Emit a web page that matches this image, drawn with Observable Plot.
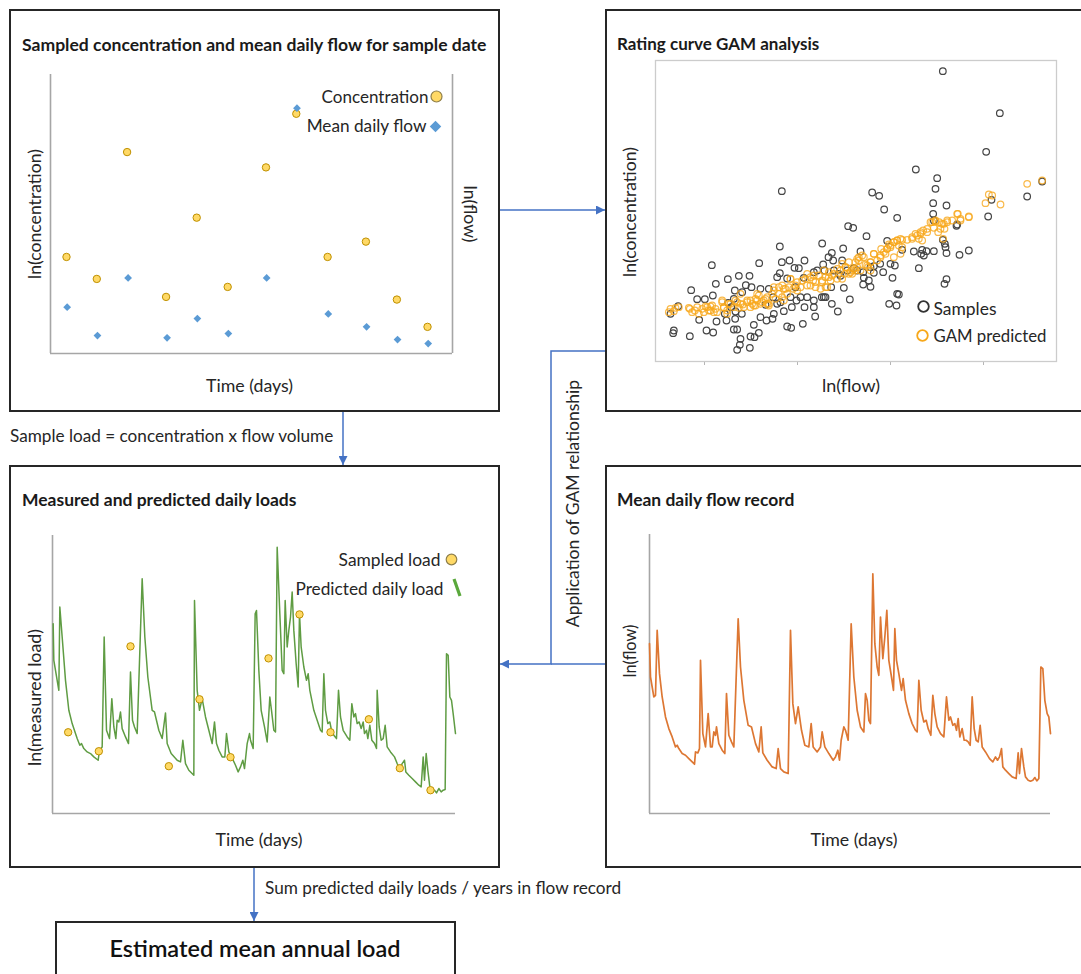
<!DOCTYPE html>
<html><head><meta charset="utf-8">
<script src="https://cdn.jsdelivr.net/npm/d3@7"></script>
<script src="https://cdn.jsdelivr.net/npm/@observablehq/plot@0.6"></script>
<style>
body{margin:0;background:#fff;}
#fig{position:relative;width:1081px;height:974px;overflow:hidden;font-family:Lato,"Open Sans","DejaVu Sans",sans-serif;color:#1f1f1f;background:#fff}
.box{position:absolute;border:2px solid #262626;box-sizing:border-box;background:#fff}
.lbl{position:absolute;white-space:nowrap;line-height:1.2;display:inline-block}
</style></head>
<body><div id="fig"></div>
<script>
// ---------- Panel 1: sampled concentration and mean daily flow ----------
const sampleDay = [48,139,230,347,439,532,647,738,832,947,1040,1132];
const lnConcentration = [29.0,22.4,60.5,17.0,40.8,20.0,55.9,72.0,29.0,33.6,16.2,8.0];
const flowSampleDay = [50,141,233,350,441,534,649,740,834,949,1042,1134];
const lnMeanDailyFlow = [13.9,5.4,22.7,4.7,10.5,6.0,22.7,73.7,11.9,8.0,4.2,3.0];

// ---------- Panel 2: rating curve GAM ----------
const sampleLnFlow = [9.07,10.78,10.37,8.26,8.90,8.85,8.78,9.18,8.78,8.80,
12.05,11.60,10.53,10.43,9.50,4.24,6.95,7.16,7.31,7.70,
6.23,6.38,6.78,7.40,5.45,4.18,7.85,8.20,8.45,8.58,
8.80,9.15,9.18,9.57,9.85,8.35,9.18,9.12,7.70,7.75,
7.46,7.68,6.60,5.74,6.08,5.64,5.48,4.62,4.75,4.92,
4.47,4.24,3.56,2.14,1.52,1.70,1.93,2.17,2.26,2.62,
2.95,3.27,3.16,3.33,3.60,3.85,4.10,4.18,4.40,4.65,
4.90,5.20,5.30,5.52,5.80,6.00,6.40,6.68,6.90,7.00,
7.28,7.56,7.50,7.63,7.19,6.85,6.90,6.68,6.10,6.28,
5.74,5.92,5.50,5.20,4.92,4.68,4.54,4.30,4.10,4.00,
3.96,3.78,3.60,3.40,3.55,3.30,3.42,3.00,2.98,2.90,
3.28,2.80,2.90,1.98,2.18,1.48,1.00,0.98,0.90,1.13,
1.76,2.28,2.53,2.63,2.58,2.85,2.84,3.04,4.40,4.52,
4.87,5.24,2.72,2.83,3.05,2.80,3.75,3.98,4.20,4.50,
4.80,5.00,5.20,5.44,5.55,5.72,5.95,5.78,6.05,6.20,
6.50,6.70,7.00,8.42,8.50,9.07,9.13,9.48];
const sampleLnConc = [9.08,7.82,6.66,6.13,5.87,5.55,5.12,5.05,4.80,4.60,
5.77,5.32,5.22,4.72,4.48,5.48,5.44,5.34,4.93,4.68,
4.43,4.38,4.13,3.99,3.91,3.82,3.72,3.67,3.72,3.68,
3.68,3.80,3.62,3.57,3.70,3.17,2.84,2.70,2.40,2.38,
2.10,2.05,3.67,3.63,3.76,3.50,3.28,3.18,3.17,3.40,
3.40,3.35,3.32,3.26,2.51,2.24,2.24,2.35,2.70,2.84,
2.94,2.94,2.66,2.60,2.55,2.55,2.90,3.02,2.86,2.60,
2.88,3.05,3.10,3.10,3.10,2.94,3.17,3.05,3.20,3.03,
3.05,2.88,3.30,3.25,3.30,2.80,2.61,2.68,2.58,2.23,
2.10,1.87,2.30,2.00,2.00,2.20,2.00,1.88,2.10,1.80,
1.65,1.60,1.70,1.47,1.23,1.12,1.10,1.05,0.87,0.72,
0.78,1.33,1.33,1.30,1.24,1.13,1.30,1.22,1.80,2.03,
1.62,1.57,1.80,2.13,1.60,1.87,1.65,1.80,1.42,1.38,
1.50,1.72,2.00,2.50,2.45,2.25,2.07,2.30,2.15,2.30,
2.30,2.30,2.20,2.30,2.30,2.60,3.00,3.40,3.40,3.10,
3.10,2.88,3.23,3.60,3.55,4.02,3.90,4.44];
const gamLnFlow = [0.85,1.00,1.15,1.48,1.55,1.70,1.90,2.00,2.10,2.15,
2.25,2.45,2.50,2.65,2.80,2.90,3.00,3.20,3.30,3.35,
3.45,3.60,3.70,3.80,3.85,3.95,4.05,4.15,4.25,4.30,
4.40,4.50,4.58,4.70,4.80,4.95,5.10,5.18,5.25,5.35,
5.45,5.55,5.65,5.70,5.80,5.90,6.00,6.05,6.15,6.25,
6.35,6.45,6.55,6.60,6.70,6.75,6.83,6.90,7.00,7.10,
7.20,7.35,7.40,7.45,7.50,7.60,7.70,7.75,7.85,8.00,
8.15,8.25,8.35,8.40,8.48,8.60,8.70,8.85,8.93,9.05,
9.12,9.20,9.35,9.52,9.60,9.85,9.08,10.35,10.45,10.55,
10.80,11.60,12.05,7.60,7.80,6.55,3.00,3.50,4.00,5.00,
5.50,4.30,2.60,2.30,1.75,5.40,6.12,7.22,8.80,8.96,
6.50,6.90,5.20,4.70,3.80,3.45,3.10,
0.90,1.05,1.45,1.63,1.85,1.95,2.05,2.10,2.20,2.45,
2.50,2.60,2.70,2.85,2.95,3.07,3.20,3.30,3.40,3.50,
3.55,3.65,3.75,3.85,4.00,4.15,4.25,4.35,4.45,4.50,
4.65,4.85,5.00,5.10,5.25,5.45,5.55,5.60,5.65,5.75,
5.90,6.05,6.15,6.25,6.35,6.45,6.30,6.40,6.50,6.65,
6.80,6.90,7.00,7.20,7.30,7.40,7.50,7.60,7.70,7.80,
7.85,8.15,8.30,8.40,8.45,8.60,8.75,8.85,9.00,9.10,
9.20,9.50,9.60,9.85];
const gamLnConc = [1.85,1.88,2.00,1.95,1.85,2.00,1.85,2.00,1.90,2.05,
1.95,2.15,2.00,2.10,2.00,2.15,2.10,2.20,2.00,2.10,
2.25,2.10,2.20,2.30,2.05,2.40,2.25,2.40,2.30,2.55,
2.40,2.85,2.55,2.50,2.60,2.85,2.65,2.80,2.60,2.95,
2.75,2.60,2.90,2.80,3.00,2.85,3.10,2.85,3.20,3.00,
3.10,3.35,3.40,3.10,3.50,3.28,3.20,3.35,3.60,3.40,
3.55,3.60,3.75,3.88,3.80,3.95,4.00,3.85,4.02,4.02,
4.05,4.20,4.05,4.20,4.30,4.25,4.55,4.60,4.25,4.50,
4.35,4.55,4.60,4.80,4.60,4.72,4.05,5.12,5.38,5.35,
5.08,5.70,5.80,3.50,3.60,3.50,2.40,2.40,2.60,3.00,
3.10,2.20,1.90,1.85,1.80,2.55,3.00,3.75,4.38,4.55,
3.20,3.10,2.95,2.75,2.10,2.05,2.00,
1.95,1.98,1.98,1.90,1.95,2.02,1.90,2.02,1.85,2.20,
1.98,1.80,2.10,2.20,1.98,2.08,2.15,2.20,2.05,2.20,
2.35,2.15,2.25,2.10,2.50,2.60,2.65,2.55,2.60,2.85,
2.65,2.80,2.65,2.90,2.75,2.80,2.90,2.60,3.05,2.95,
3.15,3.30,3.20,3.35,3.00,3.10,3.05,3.15,3.45,3.55,
3.25,3.35,3.60,3.50,3.65,3.75,3.85,3.95,4.00,4.05,
3.80,4.10,4.15,4.25,4.00,4.35,4.55,4.57,4.35,4.50,
4.60,4.80,4.65,4.70];
const lnFlowTicks = [1.92,4.71,7.50,10.29];

// ---------- Panel 3: measured and predicted daily loads ----------
const loadDay = [8,10,25,28,35,45,55,65,80,88,
93,100,110,120,130,143,147,155,161,168,
177,184,190,196,200,205,210,215,225,234,
240,246,252,260,275,283,292,305,312,325,
335,345,350,362,380,390,397,405,415,430,
432,440,447,455,465,475,485,492,498,505,
515,523,528,535,548,555,563,570,577,582,
590,597,600,608,614,618,625,632,642,650,
658,663,670,675,680,688,695,700,704,710,
715,720,725,730,737,743,747,752,760,768,
773,778,790,800,810,815,820,825,832,838,
843,850,858,864,870,878,890,898,904,910,
915,920,926,932,938,942,948,952,958,964,
972,978,980,986,992,998,1004,1010,1020,1032,
1040,1048,1055,1062,1066,1075,1085,1095,1105,1112,
1118,1122,1127,1132,1138,1145,1152,1158,1165,1172,
1178,1184,1188,1193,1198,1203,1208,1215];
const lnPredictedLoad = [57.0,46.0,37.0,62.0,53.0,40.0,31.0,27.0,22.5,20.5,
21.0,19.5,18.5,18.0,17.0,16.0,19.0,20.0,53.0,25.0,
22.5,34.5,26.0,22.5,28.0,27.5,30.5,25.5,23.0,21.0,
42.5,28.0,26.0,24.0,70.5,53.0,41.0,31.0,30.5,25.0,
22.5,30.2,21.0,18.0,16.0,15.5,22.0,15.0,13.0,11.5,
64.0,37.0,31.0,34.5,29.0,25.0,21.0,27.5,21.0,19.0,
17.0,17.0,24.0,18.5,16.0,14.5,12.5,14.0,16.0,13.5,
21.0,24.0,22.0,19.5,60.0,61.0,43.0,31.0,26.0,21.5,
35.0,31.0,25.0,24.5,80.0,60.0,43.0,42.0,64.0,50.0,
55.0,59.0,66.5,55.0,45.0,38.0,60.0,50.0,44.0,40.0,
42.0,37.0,31.0,28.0,25.0,24.5,42.0,31.0,27.0,27.5,
25.0,23.5,22.5,37.0,29.0,25.0,23.0,22.0,33.0,29.0,
30.0,27.0,27.5,25.5,27.5,24.0,25.0,22.5,26.5,22.0,
21.0,19.5,37.0,26.0,22.0,22.5,26.5,20.0,18.5,17.0,
15.0,13.5,15.0,16.0,12.5,11.5,10.5,9.5,8.5,8.0,
17.0,10.0,18.0,13.0,8.0,6.5,7.0,6.2,7.5,6.5,
7.0,7.2,48.0,47.5,35.0,34.0,30.0,24.0];
const sampledLoadDay = [53,145,240,355,447,540,654,747,840,955,1048,1140];
const lnSampledLoad = [24.4,18.7,50.2,14.2,34.3,16.9,46.6,59.8,24.4,28.3,13.6,7.0];

// ---------- Panel 4: mean daily flow record ----------
const flowRecordDay = [12,15,25,30,35,42,50,60,70,80,
90,95,100,110,120,130,140,147,150,157,
162,165,172,180,188,195,200,205,210,213,
220,230,238,243,250,258,265,278,285,295,
308,318,330,340,347,352,365,380,392,398,
405,415,428,435,442,450,458,468,478,490,
497,503,515,525,530,538,550,563,570,577,
582,587,595,600,608,617,625,635,645,655,
660,665,670,675,682,688,695,700,705,712,
718,724,730,738,744,748,753,760,768,773,
780,790,800,810,815,820,827,835,842,848,
856,862,868,875,885,895,903,910,915,922,
928,933,938,943,950,956,962,968,974,980,
986,992,998,1004,1010,1020,1032,1042,1050,1056,
1062,1068,1072,1080,1090,1100,1112,1118,1122,1128,
1135,1140,1148,1155,1162,1168,1174,1180,1186,1192,
1198,1205,1210,1215];
const lnFlowRecord = [51.0,41.0,35.0,35.5,55.0,42.0,35.0,29.0,25.5,23.0,
20.0,20.5,19.5,18.0,17.5,16.5,15.5,14.8,18.5,18.2,
19.5,46.0,24.0,20.0,30.0,20.0,20.0,24.5,23.5,26.0,
21.0,19.0,18.0,36.0,23.5,21.5,20.0,58.5,44.0,34.0,
26.5,26.0,21.0,18.5,26.0,18.2,16.0,14.0,13.5,19.5,
13.5,12.5,12.0,55.0,33.0,27.0,32.0,25.0,20.5,20.0,
27.0,20.0,18.5,20.0,24.5,20.0,18.0,16.0,17.0,19.0,
16.0,22.0,26.0,25.0,22.0,57.0,41.0,31.0,26.0,24.5,
36.0,34.0,28.0,27.0,72.0,51.0,44.0,41.5,59.0,46.5,
53.0,61.0,46.0,41.0,37.0,55.5,46.0,42.0,37.0,40.5,
34.0,30.0,27.0,25.0,24.5,40.0,31.0,27.5,28.0,25.5,
23.5,35.5,30.0,26.0,24.0,23.0,35.0,28.0,29.0,26.5,
27.0,25.0,28.5,23.0,25.5,22.0,22.0,21.5,20.5,35.0,
25.5,22.0,21.5,26.5,20.0,18.5,16.5,15.5,17.0,16.0,
17.0,19.5,14.0,13.0,12.0,11.0,10.5,18.2,12.0,19.5,
14.0,11.0,10.0,9.7,10.0,10.8,9.8,10.5,44.0,43.5,
34.0,30.0,29.0,24.0];

// ---------- text ----------
const panelTitles = ["Sampled concentration and mean daily flow for sample date","Rating curve GAM analysis","Measured and predicted daily loads","Mean daily flow record"];
const stepNotes = ["Sample load = concentration x flow volume","Application of GAM relationship","Sum predicted daily loads / years in flow record"];
const resultLabel = "Estimated mean annual load";

// ================= rendering =================
const FONT = "Lato, 'Open Sans', 'DejaVu Sans', sans-serif";
const INK = "#262626", AXIS = "#a6a6a6", BLUE = "#4472C4";
const GOLD_FILL = "#FFD966", GOLD_STROKE = "#BF9000", DIAMOND = "#5B9BD5";
const GREEN = "#5f9c43", ORANGE = "#DD7733", SAMPLE_GRAY = "#454545", GAM_ORANGE = "#F7A81B";
const fig = document.getElementById("fig");
const zip = (xs, ys) => xs.map((x, i) => ({x, y: ys[i]}));

function box(l, t, w, h) { const d = document.createElement("div"); d.className = "box"; Object.assign(d.style, {left: l+"px", top: t+"px", width: w+"px", height: h+"px"}); fig.appendChild(d); }
box(9, 9, 491, 403); box(605, 9, 490, 403); box(9, 465, 491, 403); box(605, 465, 490, 403); box(55, 921, 401, 80);

// connectors
const conn = d3.create("svg").attr("width", 1081).attr("height", 974).style("position","absolute").style("left","0px").style("top","0px");
conn.append("defs").append("marker").attr("id","ah").attr("viewBox","0 0 10 10").attr("refX",10).attr("refY",5)
  .attr("markerWidth",9).attr("markerHeight",9).attr("markerUnits","userSpaceOnUse").attr("orient","auto")
  .append("path").attr("d","M0,0L10,5L0,10Z").attr("fill",BLUE);
[["M500,210H605",true],["M343,412V465",true],["M605,351H551V664H500",true],["M605,664H551",false],["M254,868V921",true]]
  .forEach(([d, head]) => { const p = conn.append("path").attr("d", d).attr("fill","none").attr("stroke",BLUE).attr("stroke-width",1.5); if (head) p.attr("marker-end","url(#ah)"); });
fig.appendChild(conn.node());

function fitTexts(svg, fits) {
  svg.querySelectorAll("text").forEach(t => {
    const want = fits[t.textContent];
    if (!want) return;
    const len = t.getComputedTextLength();
    const fs = parseFloat(getComputedStyle(t).fontSize);
    if (len > 0) t.style.fontSize = (fs * want / len).toFixed(2) + "px";
  });
}
function mount(svg, left, top, fits) {
  svg.style.position = "absolute"; svg.style.left = left + "px"; svg.style.top = top + "px";
  fig.appendChild(svg); fitTexts(svg, fits);
}
const baseStyle = {fontFamily: FONT, fontSize: "15px", background: "transparent", color: INK, overflow: "visible"};
const txt = (s, o) => Plot.text([s], {fill: INK, fontSize: 15, textAnchor: "middle", lineAnchor: "middle", ...o});

// Panel 1
mount(Plot.plot({
  width: 487, height: 340, marginLeft: 39, marginRight: 46, marginTop: 14, marginBottom: 47,
  x: {domain: [0, 1207], axis: null}, y: {domain: [0, 83.8], axis: null}, style: baseStyle,
  marks: [
    Plot.ruleX([0, 1207], {stroke: AXIS, strokeWidth: 1.6}),
    Plot.ruleY([0], {stroke: AXIS, strokeWidth: 1.6}),
    Plot.dot(zip(sampleDay, lnConcentration), {x: "x", y: "y", r: 3.7, fill: GOLD_FILL, stroke: GOLD_STROKE, strokeWidth: 1}),
    Plot.dot(zip(flowSampleDay, lnMeanDailyFlow), {x: "x", y: "y", r: 3.5, symbol: "diamond2", fill: DIAMOND}),
    txt("ln(concentration)", {frameAnchor: "left", dx: -15, rotate: -90}),
    txt("ln(flow)", {frameAnchor: "right", dx: 17, rotate: 90}),
    txt("Time (days)", {frameAnchor: "bottom", dx: -2, dy: 33}),
    txt("Concentration", {frameAnchor: "top-right", dx: -24, dy: 23, textAnchor: "end"}),
    Plot.dot([0], {frameAnchor: "top-right", dx: -16, dy: 22, r: 5.5, fill: GOLD_FILL, stroke: "#8f7f4a", strokeWidth: 1.2}),
    txt("Mean daily flow", {frameAnchor: "top-right", dx: -26, dy: 52, textAnchor: "end"}),
    Plot.dot([0], {frameAnchor: "top-right", dx: -17, dy: 52, r: 5.2, symbol: "diamond2", fill: DIAMOND})
  ]
}), 11, 60, {"ln(concentration)": 130, "ln(flow)": 57, "Time (days)": 87, "Concentration": 107, "Mean daily flow": 120});

// Panel 2
mount(Plot.plot({
  width: 473, height: 350, marginLeft: 48, marginRight: 24, marginTop: 10, marginBottom: 39,
  x: {domain: [0.45, 12.48], ticks: lnFlowTicks, tickSize: 4, tickFormat: () => "", label: null},
  y: {domain: [0.37, 9.40], axis: null},
  style: {...baseStyle, color: "#b5b5b5"},
  marks: [
    Plot.frame({stroke: "#cccccc", strokeWidth: 1.3}),
    Plot.dot(zip(sampleLnFlow, sampleLnConc), {x: "x", y: "y", r: 3.3, stroke: SAMPLE_GRAY, strokeWidth: 1.2, fill: "none"}),
    Plot.dot(zip(gamLnFlow, gamLnConc), {x: "x", y: "y", r: 3.3, stroke: GAM_ORANGE, strokeOpacity: 0.8, strokeWidth: 1.2, fill: "none"}),
    txt("ln(concentration)", {frameAnchor: "left", dx: -25, dy: 1, rotate: -90}),
    txt("ln(flow)", {frameAnchor: "bottom", dx: -5, dy: 25}),
    Plot.dot([0], {frameAnchor: "bottom-right", dx: -133, dy: -55, r: 5.3, stroke: "#333", strokeWidth: 1.8, fill: "none"}),
    txt("Samples", {frameAnchor: "bottom-right", dx: -123, dy: -52, textAnchor: "start"}),
    Plot.dot([0], {frameAnchor: "bottom-right", dx: -134, dy: -26, r: 5.3, stroke: GAM_ORANGE, strokeWidth: 1.8, fill: "none"}),
    txt("GAM predicted", {frameAnchor: "bottom-right", dx: -123, dy: -25, textAnchor: "start"})
  ]
}), 607, 50, {"ln(concentration)": 130, "ln(flow)": 58, "Samples": 63, "GAM predicted": 113});

// Panel 3
const slash = {draw(ctx) { ctx.moveTo(-3, -8.5); ctx.lineTo(3, 8.5); }};
mount(Plot.plot({
  width: 487, height: 345, marginLeft: 41, marginRight: 43, marginTop: 25, marginBottom: 42,
  x: {domain: [6, 1215], axis: null}, y: {domain: [0, 83.5], axis: null}, style: baseStyle,
  marks: [
    Plot.ruleX([6], {stroke: AXIS, strokeWidth: 1.6}),
    Plot.ruleY([0], {stroke: AXIS, strokeWidth: 1.6}),
    Plot.line(zip(loadDay, lnPredictedLoad), {x: "x", y: "y", stroke: GREEN, strokeWidth: 1.5}),
    Plot.dot(zip(sampledLoadDay, lnSampledLoad), {x: "x", y: "y", r: 3.7, fill: GOLD_FILL, stroke: GOLD_STROKE, strokeWidth: 1}),
    txt("ln(measured load)", {frameAnchor: "left", dx: -17, dy: 23, rotate: -90}),
    txt("Time (days)", {frameAnchor: "bottom", dx: 5, dy: 27}),
    txt("Sampled load", {frameAnchor: "top-right", dx: -15, dy: 25, textAnchor: "end"}),
    Plot.dot([0], {frameAnchor: "top-right", dx: -4, dy: 24, r: 5.3, fill: GOLD_FILL, stroke: "#8f7f4a", strokeWidth: 1.2}),
    txt("Predicted daily load", {frameAnchor: "top-right", dx: -12, dy: 54, textAnchor: "end"}),
    Plot.dot([0], {frameAnchor: "top-right", dx: 1.5, dy: 52, symbol: slash, stroke: "#5aa83c", strokeWidth: 3.2, fill: "none"})
  ]
}), 11, 510, {"ln(measured load)": 137, "Time (days)": 87, "Sampled load": 102, "Predicted daily load": 148});

// Panel 4
mount(Plot.plot({
  width: 473, height: 345, marginLeft: 42, marginRight: 30, marginTop: 24, marginBottom: 42,
  x: {domain: [12, 1215], axis: null}, y: {domain: [0, 83.8], axis: null}, style: baseStyle,
  marks: [
    Plot.ruleX([12], {stroke: AXIS, strokeWidth: 1.6}),
    Plot.ruleY([0], {stroke: AXIS, strokeWidth: 1.6}),
    Plot.line(zip(flowRecordDay, lnFlowRecord), {x: "x", y: "y", stroke: ORANGE, strokeWidth: 1.7}),
    txt("ln(flow)", {frameAnchor: "left", dx: -19, dy: -23, rotate: -90}),
    txt("Time (days)", {frameAnchor: "bottom", dx: 4, dy: 27})
  ]
}), 607, 510, {"ln(flow)": 53, "Time (days)": 87});

// HTML labels fitted to the widths
function label(text, {x, cx, cy, w, weight = 400, size = 15, rotate = 0, color = "#1a1a1a"}) {
  const s = document.createElement("span"); s.className = "lbl"; s.textContent = text;
  s.style.fontWeight = weight; s.style.fontSize = size + "px"; s.style.color = color;
  fig.appendChild(s);
  const f = size * w / s.offsetWidth; s.style.fontSize = f.toFixed(2) + "px";
  const W = s.offsetWidth, H = s.offsetHeight;
  const left = x != null ? x : cx - W / 2;
  s.style.left = left + "px"; s.style.top = (cy - H / 2) + "px";
  if (rotate) s.style.transform = `rotate(${rotate}deg)`;
}
label(panelTitles[0], {x: 22, cy: 44, w: 465, weight: 700});
label(panelTitles[1], {x: 617, cy: 44, w: 203, weight: 700});
label(panelTitles[2], {x: 22, cy: 500, w: 274, weight: 700});
label(panelTitles[3], {x: 617, cy: 500, w: 178, weight: 700});
label(stepNotes[0], {x: 10, cy: 436, w: 324, color: INK});
label(stepNotes[1], {cx: 572, cy: 503, w: 247, rotate: -90, color: INK});
label(stepNotes[2], {x: 265, cy: 888, w: 357, color: INK});
label(resultLabel, {cx: 255, cy: 948, w: 291, weight: 600, color: "#111"});
</script>
</body></html>
